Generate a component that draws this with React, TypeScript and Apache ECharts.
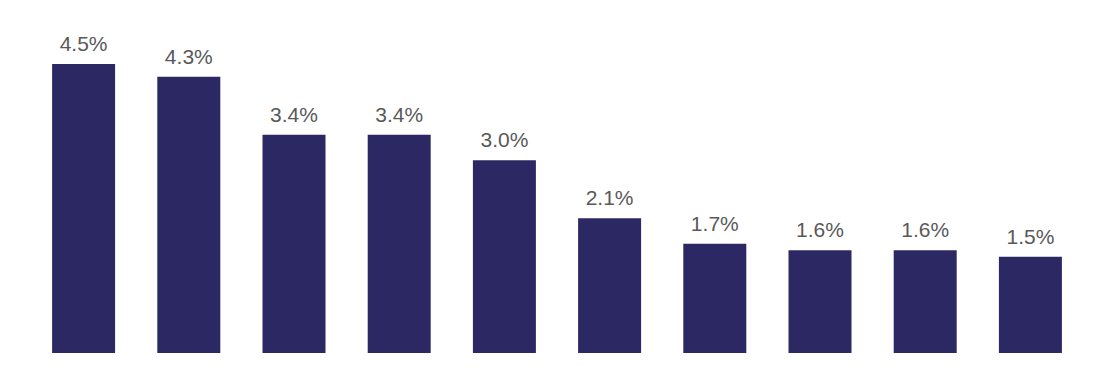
import React, { useEffect, useRef } from "react";
import * as echarts from "echarts";

const categories = ["A", "B", "C", "D", "E", "F", "G", "H", "I", "J"];
const values = [4.5, 4.3, 3.4, 3.4, 3.0, 2.1, 1.7, 1.6, 1.6, 1.5];

export default function App() {
  const ref = useRef<HTMLDivElement>(null);
  useEffect(() => {
    const chart = echarts.init(ref.current!, null, { renderer: "svg" });
    chart.setOption({
      animation: false,
      grid: { left: 31, right: 29, top: 64, bottom: 31 },
      xAxis: {
        type: "category",
        data: categories,
        show: false,
      },
      yAxis: {
        type: "value",
        min: 0,
        max: 4.5,
        show: false,
      },
      series: [
        {
          type: "bar",
          data: values,
          barWidth: 63,
          itemStyle: { color: "#2C2863" },
          label: {
            show: true,
            position: "top",
            distance: 10,
            formatter: (p: any) => p.value.toFixed(1) + "%",
            color: "#595959",
            fontFamily: "Liberation Sans, Arial, sans-serif",
            fontSize: 21,
          },
        },
      ],
    });
    return () => chart.dispose();
  }, []);
  return (
    <div
      ref={ref}
      style={{ position: "absolute", left: 0, top: 0, width: 1112, height: 384, background: "#fff" }}
    />
  );
}
